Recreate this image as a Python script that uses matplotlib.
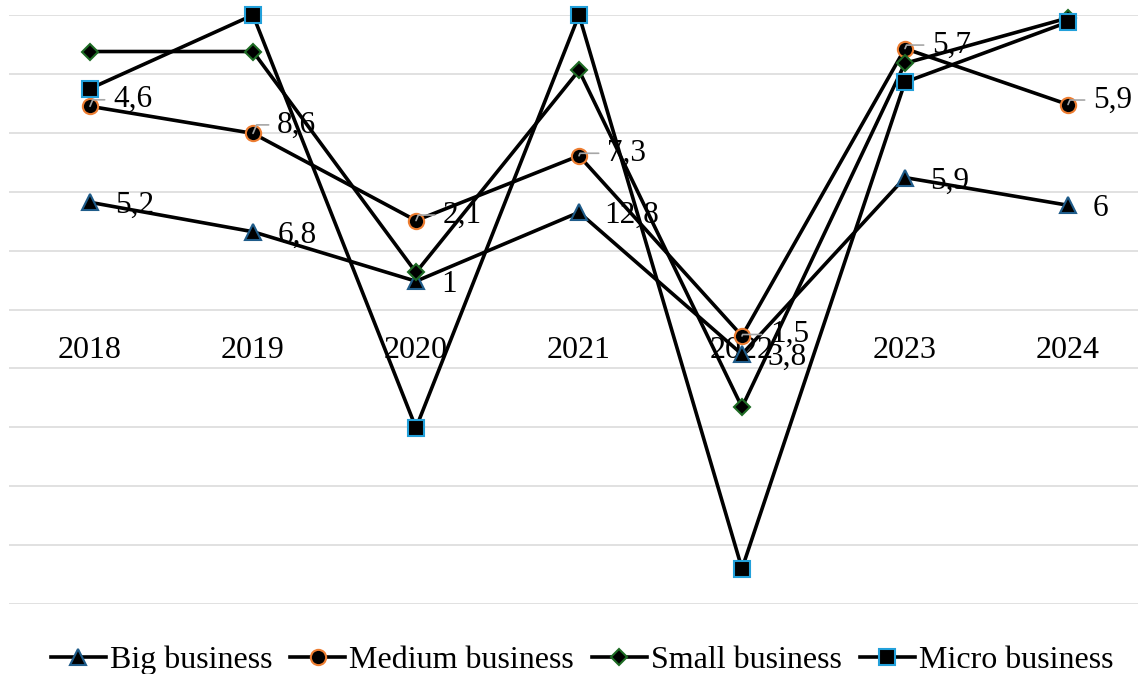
import matplotlib
matplotlib.use('Agg')
import matplotlib.pyplot as plt

years = ['2018', '2019', '2020', '2021', '2022', '2023', '2024']

big_business = [18.2, 13.2, 4.8, 16.5, -7.6, 22.4, 17.7]
medium_business = [34.5, 29.9, 15.1, 26.1, -4.5, 44.3, 34.8]
small_business = [43.8, 43.8, 6.3, 40.6, -16.6, 41.8, 49.5]
micro_business = [37.5, 50.0, -20.1, 50.0, -44.0, 38.6, 48.8]

big_labels = ['5,2', '6,8', '1', '12,8', '3,8', '5,9', '6']
medium_labels = ['4,6', '8,6', '2,1', '7,3', '1,5', '5,7', '5,9']

# label nudges (pixels) for the moved medium labels
medium_nudge = [(23, 10), (24, 12), (27, 9), (28, 6), (28, 5), (27, 7), (25, 8)]

plt.rcParams['font.family'] = ['Liberation Serif', 'DejaVu Serif']

fig = plt.figure(figsize=(11.38, 6.74), dpi=100)
ax = fig.add_axes([8.5 / 1138, 70 / 674, 1141 / 1138, 589 / 674])

x = list(range(len(years)))
series = [
    ('Big business', big_business, '^', '#1F5C8A', 11.5),
    ('Medium business', medium_business, 'o', '#ED7D31', 11),
    ('Small business', small_business, 'D', '#1E6B24', 8),
    ('Micro business', micro_business, 's', '#22A0DA', 11),
]
for name, values, marker, edge, size in series:
    ax.plot(x, values, color='black', linewidth=2.6, marker=marker,
            markersize=size, markerfacecolor='black', markeredgecolor=edge,
            markeredgewidth=1.5, label=name, clip_on=False)

for i, txt in enumerate(big_labels):
    ax.annotate(txt, (x[i], big_business[i]), xytext=(25, 0),
                textcoords='offset pixels', ha='left', va='center_baseline',
                fontsize=22.5, color='black')

for i, txt in enumerate(medium_labels):
    dx, dy = medium_nudge[i]
    ax.annotate(txt, (x[i], medium_business[i]), xytext=(dx, dy),
                textcoords='offset pixels', ha='left', va='center_baseline',
                fontsize=22.5, color='black',
                arrowprops=dict(arrowstyle='-', color='#a6a6a6', lw=1.2,
                                connectionstyle='angle,angleA=0,angleB=67,rad=0',
                                relpos=(0, 0.5), shrinkA=4, shrinkB=0))

ax.set_xlim(-0.5, 6.5)
ax.set_ylim(-50, 50)
ax.set_yticks(range(-50, 51, 10))
ax.yaxis.grid(True, color='#d9d9d9', linewidth=1.1)
ax.set_axisbelow(True)
ax.tick_params(axis='y', left=False, labelleft=False)

ax.spines['bottom'].set_position(('data', 0))
ax.set_xticks(x)
ax.set_xticklabels(years)
ax.tick_params(axis='x', length=0, pad=19, labelsize=23)
for side in ['top', 'right', 'left', 'bottom']:
    ax.spines[side].set_visible(False)

fig.legend(loc='center', bbox_to_anchor=(582 / 1138, 1 - 660 / 674), ncol=4,
           frameon=False, fontsize=23, handlelength=1.72, handletextpad=0.13,
           columnspacing=0.56, borderpad=0)

fig.savefig('out.png', dpi=100)
